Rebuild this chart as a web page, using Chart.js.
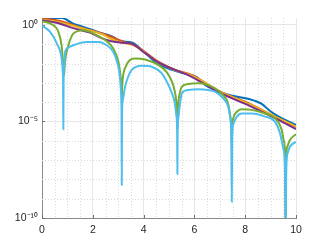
<!DOCTYPE html>
<html>
<head>
<meta charset="utf-8">
<script src="https://cdn.jsdelivr.net/npm/chart.js@4.4.1/dist/chart.umd.min.js"></script>
<style>
  html, body { margin: 0; padding: 0; background: #fff; }
  #wrap { width: 327px; height: 245px; }
</style>
</head>
<body>
<div id="wrap"><canvas id="plot" width="327" height="245"></canvas></div>
<script>
// values (x, |f(x)|)
const xBlue = [0, 0.79, 1.23, 1.63, 2.28, 2.80, 3.07, 3.54, 4.06, 4.53, 5.11, 5.59, 6.09, 6.42, 6.81, 7.40, 8.11, 8.65, 8.98, 9.29, 10];
const yBlue = [2.3, 2.3, 1.17, 0.79, 0.40, 0.24, 0.148, 0.123, 0.035, 0.0105, 4.7e-3, 3.1e-3, 2.0e-3, 7.8e-4, 4.3e-4, 2.3e-4, 1.5e-4, 8.1e-5, 3.5e-5, 1.9e-5, 6.6e-6];

const xOrange = [0, 0.71, 1.61, 2.56, 3.27, 3.60, 4.58, 5.20, 5.89, 7.01, 8.19, 9.17, 10];
const yOrange = [2.14, 1.62, 0.69, 0.295, 0.126, 0.10, 0.0126, 5.0e-3, 2.6e-3, 3.5e-4, 8.1e-5, 1.8e-5, 5.2e-6];

const xYellow = [0, 0.71, 1.61, 2.09, 2.40, 2.68, 3.07, 3.66, 4.57, 5.20, 5.91, 7.01, 8.19, 9.17, 10];
const yYellow = [1.9, 1.35, 0.66, 0.44, 0.32, 0.20, 0.132, 0.081, 0.012, 4.8e-3, 2.4e-3, 3.5e-4, 7.6e-5, 1.8e-5, 5.5e-6];

const xPurple = [0, 0.71, 1.22, 1.89, 2.40, 2.68, 3.19, 3.54, 4.06, 4.58, 5.91, 7.01, 8.19, 9.17, 10];
const yPurple = [1.74, 1.17, 0.69, 0.40, 0.195, 0.148, 0.12, 0.105, 0.035, 0.0117, 2.0e-3, 3.0e-4, 6.3e-5, 1.5e-5, 4.0e-6];

const xGreen = [0, 0.43, 0.63, 0.77, 0.81, 0.85, 0.87, 0.89, 0.91, 0.95, 1.04, 1.13, 1.23, 1.63, 1.89, 2.28, 2.55, 2.81, 2.99, 3.06,
  3.11, 3.13, 3.14, 3.15, 3.17, 3.21, 3.27, 3.46, 3.66, 4.06, 4.57, 4.91, 5.12, 5.22, 5.29, 5.32, 5.33, 5.34, 5.37, 5.43,
  5.50, 5.75, 6.14, 6.81, 7.13, 7.32, 7.40, 7.45, 7.47, 7.49, 7.54, 7.67, 7.86, 8.26, 8.78, 9.17, 9.44, 9.52, 9.57, 9.59,
  9.61, 9.66, 9.76, 10];
const yGreen = [1.58, 1.0, 0.49, 9.1e-2, 2.5e-2, 6.3e-3, 2.5e-3, 6.3e-3, 1.26e-2, 3.2e-2, 8.9e-2, 0.2, 0.355, 0.54, 0.44, 0.24, 0.145, 0.059, 0.0158, 5.0e-3,
  1.26e-3, 4.0e-4, 9.1e-5, 4.0e-4, 1.26e-3, 3.2e-3, 5.9e-3, 0.0155, 0.0186, 0.0162, 8.5e-3, 3.6e-3, 1.12e-3, 4.0e-4, 1.0e-4, 2.0e-5, 3.6e-6, 2.0e-5, 1.0e-4, 3.2e-4,
  6.2e-4, 8.7e-4, 9.5e-4, 5.2e-4, 2.3e-4, 9.1e-5, 2.5e-5, 5.0e-6, 4.9e-7, 5.0e-6, 1.6e-5, 3.2e-5, 4.3e-5, 4.0e-5, 2.6e-5, 1.5e-5, 3.6e-6, 1e-6, 1.6e-7, 1e-11,
  1e-7, 5.0e-7, 1.1e-6, 2.2e-6];

const xCyan = [0, 0.31, 0.58, 0.78, 0.81, 0.83, 0.84, 0.85, 0.87, 0.91, 1.00, 1.23, 1.76, 2.22, 2.55, 2.81, 2.99, 3.06, 3.11, 3.13,
  3.14, 3.15, 3.18, 3.22, 3.27, 3.40, 3.53, 3.93, 4.32, 4.71, 4.88, 5.12, 5.22, 5.29, 5.32, 5.33, 5.34, 5.37, 5.43, 5.51,
  5.76, 6.15, 6.54, 6.81, 7.13, 7.33, 7.41, 7.45, 7.47, 7.49, 7.54, 7.67, 7.86, 8.26, 8.78, 9.17, 9.37, 9.50, 9.56, 9.59,
  9.62, 9.68, 9.76, 10];
const yCyan = [0.93, 0.45, 0.112, 0.0155, 5.0e-3, 1.0e-3, 4.0e-6, 1.0e-3, 6.3e-3, 0.04, 0.063, 0.089, 0.132, 0.132, 0.089, 0.04, 8.5e-3, 2.5e-3, 4.0e-4, 5.0e-5,
  5.1e-9, 2.5e-5, 1.26e-4, 2.5e-4, 6.3e-4, 2.2e-3, 4.7e-3, 7.8e-3, 6.9e-3, 3.2e-3, 1.4e-3, 2.8e-4, 1.0e-4, 2.0e-5, 3.2e-6, 1.9e-8, 3.2e-6, 1.6e-5, 7.9e-5, 2.9e-4,
  4.3e-4, 4.7e-4, 4.3e-4, 3.5e-4, 1.6e-4, 5.9e-5, 1.6e-5, 2.5e-6, 6.9e-10, 2.0e-6, 7.9e-6, 1.8e-5, 2.6e-5, 2.6e-5, 1.8e-5, 9.8e-6, 2.5e-6, 4.0e-7, 6.3e-8, 1e-11,
  5.0e-8, 2.5e-7, 4.9e-7, 8.9e-7];

const xTicks = [0, 2, 4, 6, 8, 10];
const yTicks = [1e-10, 1e-5, 1];
const yTickText = ['10⁻¹⁰', '10⁻⁵', '10⁰'];
const yMax = 2.3;

const pts = (xs, ys) => xs.map((x, i) => ({ x: x, y: ys[i] }));

function line(xs, ys, color, order) {
  return {
    data: pts(xs, ys),
    borderColor: color,
    borderWidth: 2,
    pointRadius: 0,
    cubicInterpolationMode: 'monotone',
    fill: false,
    order: order
  };
}

// dotted minor grid + inward tick marks, like the original figure
const minorGrid = {
  id: 'minorGrid',
  beforeDatasetsDraw(chart) {
    const { ctx, chartArea: a, scales } = chart;
    const sx = scales.x, sy = scales.y;
    ctx.save();
    ctx.strokeStyle = '#dadada';
    ctx.lineWidth = 1;
    ctx.setLineDash([1, 2]);
    for (let v = 0.5; v < 10; v += 0.5) {
      if (v % 2 === 0) continue;
      const p = Math.round(sx.getPixelForValue(v)) + 0.5;
      ctx.beginPath(); ctx.moveTo(p, a.top); ctx.lineTo(p, a.bottom); ctx.stroke();
    }
    for (let e = -9; e <= 0; e++) {
      if (e === -5 || e === 0) continue;
      const p = Math.round(sy.getPixelForValue(Math.pow(10, e))) + 0.5;
      ctx.beginPath(); ctx.moveTo(a.left, p); ctx.lineTo(a.right, p); ctx.stroke();
    }
    ctx.setLineDash([]);
    ctx.strokeStyle = '#6e6e6e';
    xTicks.forEach(v => {
      const p = Math.round(sx.getPixelForValue(v)) + 0.5;
      ctx.beginPath(); ctx.moveTo(p, a.bottom); ctx.lineTo(p, a.bottom - 3); ctx.stroke();
    });
    yTicks.forEach(v => {
      const p = Math.round(sy.getPixelForValue(v)) + 0.5;
      ctx.beginPath(); ctx.moveTo(a.left, p); ctx.lineTo(a.left + 3, p); ctx.stroke();
    });
    ctx.restore();
  }
};

new Chart(document.getElementById('plot'), {
  type: 'line',
  data: {
    datasets: [
      line(xBlue, yBlue, '#0072BD', 5),
      line(xOrange, yOrange, '#D95319', 4),
      line(xYellow, yYellow, '#EDB120', 3),
      line(xPurple, yPurple, '#7E2F8E', 2),
      line(xGreen, yGreen, '#77AC30', 1),
      line(xCyan, yCyan, '#4DBEEE', 0)
    ]
  },
  options: {
    responsive: false,
    animation: false,
    layout: { padding: { left: 0, right: 31, top: 18, bottom: 0 } },
    plugins: { legend: { display: false }, tooltip: { enabled: false } },
    scales: {
      x: {
        type: 'linear',
        min: 0,
        max: 10,
        afterBuildTicks: s => { s.ticks = xTicks.map(v => ({ value: v })); },
        afterFit: s => { s.height = 27; },
        grid: { color: '#e6e6e6', drawTicks: false },
        border: { color: '#8a8a8a' },
        ticks: { color: '#262626', padding: 6, font: { family: 'Liberation Sans', size: 10.5 }, autoSkip: false, maxRotation: 0 }
      },
      y: {
        type: 'logarithmic',
        min: 1e-10,
        max: yMax,
        afterBuildTicks: s => { s.ticks = yTicks.map(v => ({ value: v })); },
        afterFit: s => { s.width = 42; },
        grid: { color: '#e6e6e6', drawTicks: false },
        border: { color: '#8a8a8a' },
        ticks: {
          color: '#262626',
          padding: 4,
          font: { family: 'Liberation Sans', size: 10.5 },
          autoSkip: false,
          callback: v => {
            const i = yTicks.findIndex(t => Math.abs(Math.log10(t) - Math.log10(v)) < 1e-6);
            return i >= 0 ? yTickText[i] : '';
          }
        }
      }
    }
  },
  plugins: [minorGrid]
});
</script>
</body>
</html>
